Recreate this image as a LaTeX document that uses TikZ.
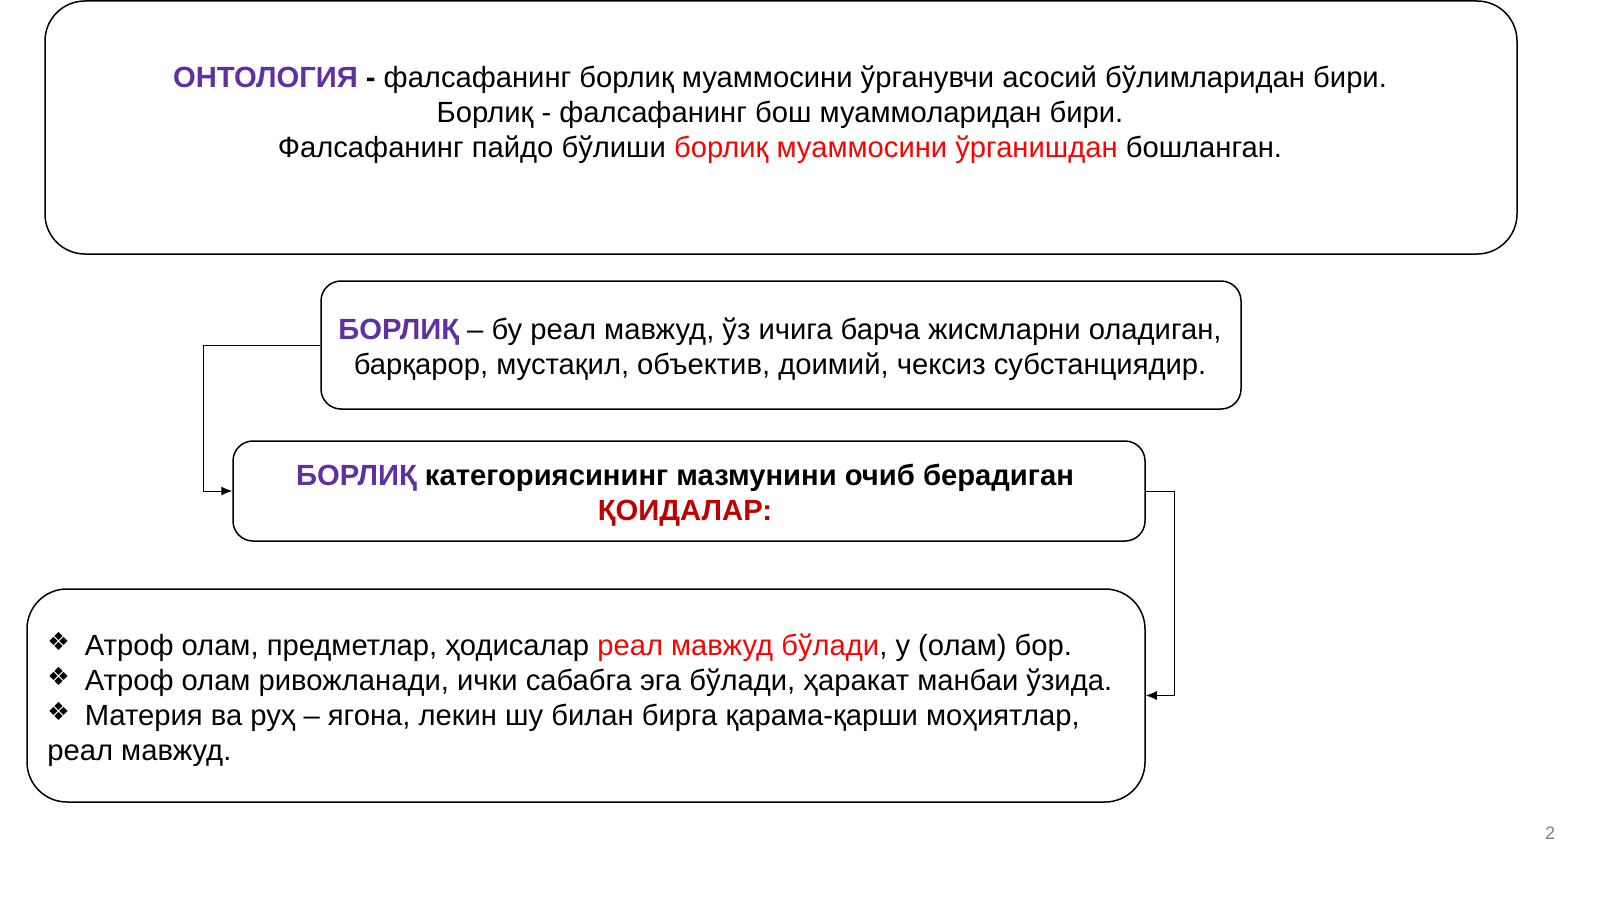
\documentclass[tikz,border=0pt]{standalone}
\usepackage{fontspec}
\setmainfont{Liberation Sans}
\newfontfamily\symfont{DejaVu Sans}
\usetikzlibrary{arrows.meta}
\definecolor{ontpurple}{RGB}{96,48,160}
\definecolor{ontred}{RGB}{255,0,0}
\definecolor{ruled}{RGB}{192,0,0}
\newcommand{\diam}{\raisebox{0.3ex}{\symfont\fontsize{12.5}{13}\selectfont ❖}\hspace{7.5pt}}
\tikzset{
    panel/.style={draw, line width=0.75pt, rounded corners=#1, inner sep=0pt},
    panel/.default=10pt,
    txt/.style={font=\fontsize{14.6}{17.6}\selectfont, inner sep=0pt},
    link/.style={line width=0.5pt, -{Latex[length=5.5pt,width=4.5pt]}},
}
\begin{document}
\begin{tikzpicture}[x=0.5pt, y=-0.5pt]
            \useasboundingbox (0,0) rectangle (1600,899);
            % boxes
            \node[panel=20pt, minimum width=736pt, minimum height=126.5pt] (onto) at (781,127.5) {};
            \node[panel, minimum width=460pt, minimum height=64pt] (borl) at (781,345) {};
            \node[panel, minimum width=456pt, minimum height=50pt] (cat) at (689,491) {};
            \node[panel=20pt, minimum width=559pt, minimum height=106.5pt] (rules) at (586,695.5) {};
            % texts
            \node[txt, align=center] (onto-t) at (780,114.5) {%
                \textcolor{ontpurple}{\textbf{ОНТОЛОГИЯ}} \textbf{-} фалсафанинг борлиқ муаммосини ўрганувчи асосий бўлимларидан бири.\\
                Борлиқ - фалсафанинг бош муаммоларидан бири.\\
                Фалсафанинг пайдо бўлиши \textcolor{ontred}{борлиқ муаммосини ўрганишдан} бошланган.};
            \node[txt, align=center] (borl-t) at (780,349) {%
                \textcolor{ontpurple}{\textbf{БОРЛИҚ}} -- бу реал мавжуд, ўз ичига барча жисмларни оладиган,\\
                барқарор, мустақил, объектив, доимий, чексиз субстанциядир.};
            \node[txt, align=center, font=\fontsize{14.6}{17.6}\selectfont\bfseries] (cat-t) at (685,495.5) {%
                \textcolor{ontpurple}{БОРЛИҚ} категориясининг мазмунини очиб берадиган\\
                \textcolor{ruled}{ҚОИДАЛАР:}};
            \node[txt, align=left, anchor=west] (rules-t) at (47,699.5) {%
                \diam Атроф олам, предметлар, ҳодисалар \textcolor{ontred}{реал мавжуд бўлади}, у (олам) бор.\\
                \diam Атроф олам ривожланади, ички сабабга эга бўлади, ҳаракат манбаи ўзида.\\
                \diam Материя ва руҳ -- ягона, лекин шу билан бирга қарама-қарши моҳиятлар,\\
                реал мавжуд.};
            \node[font=\fontsize{9}{10}\selectfont, text=gray, inner sep=0pt] (page) at (1550,833) {2};
            % connectors
            \draw[link] (borl.west) -- ++(-117,0) |- (cat.west);
            \draw[link] (cat.east) -- ++(29,0) |- (rules.east);
\end{tikzpicture}
\end{document}
